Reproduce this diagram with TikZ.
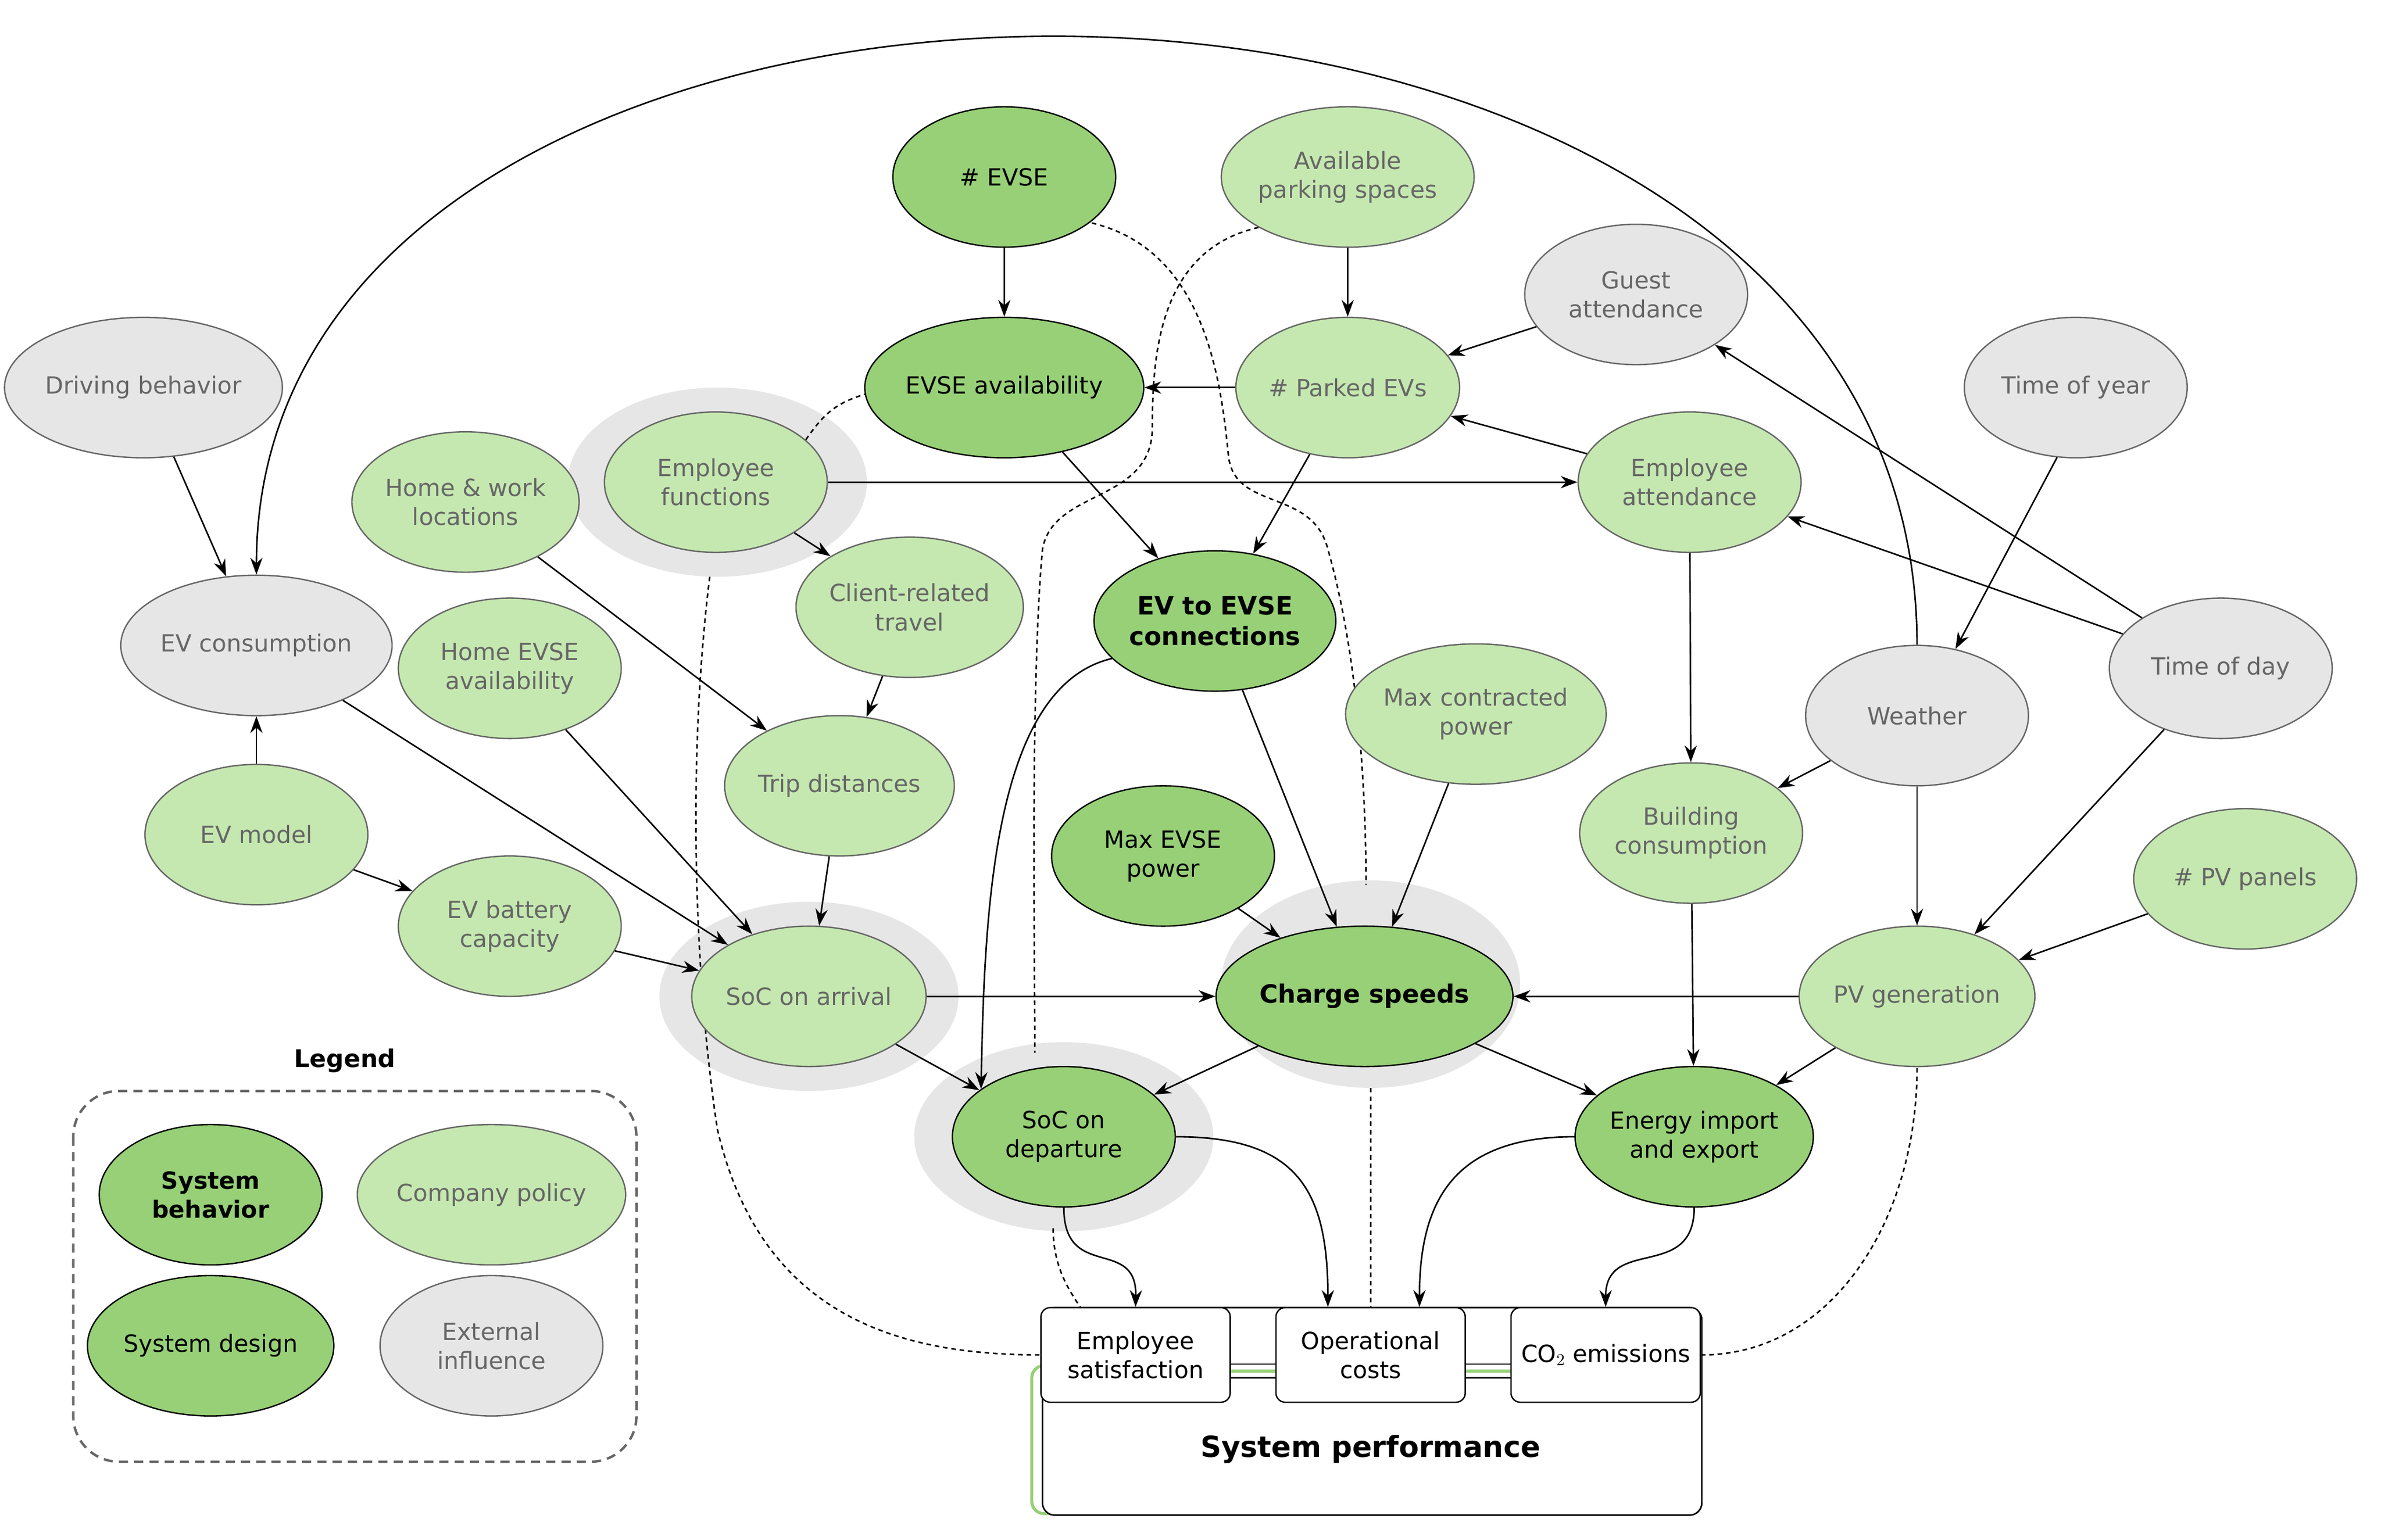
\documentclass[tikz,border=0pt]{standalone}
\usepackage{fontspec}
\setmainfont{DejaVu Sans}
\usetikzlibrary{shapes.geometric,arrows.meta}
\definecolor{dk}{HTML}{97D077}
\definecolor{lt}{HTML}{C5E8B0}
\definecolor{gy}{HTML}{E6E6E6}
\definecolor{tx}{HTML}{666666}
\definecolor{gl}{HTML}{97D077}
\begin{document}
\begin{tikzpicture}[x=1pt,y=-1pt,
 base/.style={ellipse,minimum width=146pt,minimum height=92pt,inner sep=0pt,align=center,font=\fontsize{15.5}{19}\selectfont,line width=0.9pt},
 dark/.style={base,fill=dk,draw=black,text=black},
 light/.style={base,fill=lt,draw=tx,text=tx},
 ext/.style={base,fill=gy,draw=tx,text=tx},
 halo/.style={ellipse,fill=gy,minimum width=196pt,minimum height=120pt},
 box/.style={draw=black,fill=white,rounded corners=6pt,minimum width=124pt,minimum height=62pt,align=center,font=\fontsize{15.5}{19}\selectfont,line width=0.9pt,inner sep=1pt},
 ar/.style={-{Stealth[length=11pt,width=8pt]},line width=1pt},
 ds/.style={dashed,line width=1pt,dash pattern=on 3pt off 2.5pt}]
\useasboundingbox (0,0) rectangle (1560,1009);
% halos
\fill[gy] (470,316) ellipse (98 and 62);
\fill[gy] (530,653) ellipse (98 and 62);
\fill[gy] (898,645) ellipse (98 and 68);
\fill[gy] (697,745) ellipse (98 and 62);
% dashed links
\draw[ds] (710,145) .. controls (790,160) and (800,250) .. (805,300) .. controls (810,335) and (860,320) .. (870,360) .. controls (890,430) and (895,520) .. (895,580);
\draw[ds] (830,148) .. controls (760,160) and (755,230) .. (755,280) .. controls (755,330) and (690,320) .. (683,360) .. controls (675,450) and (678,620) .. (678,690);
\draw[ds] (585,254) .. controls (545,262) and (540,270) .. (520,300);
\draw[ds] (465,378) .. controls (450,500) and (455,640) .. (470,740) .. controls (500,870) and (600,888) .. (683,888);
\draw[ds] (898,713) -- (898,857);
\draw[ds] (690,805) .. controls (690,830) and (700,845) .. (708,857);
\draw[ds] (1256,700) .. controls (1256,800) and (1200,888) .. (1115,888);
% performance box
\draw[gl,line width=2pt,rounded corners=8pt] (690,895) -- (676,895) -- (676,992) -- (700,992);
\draw[black,line width=1pt,rounded corners=8pt,fill=white] (683,857) rectangle (1115,993);
\node[font=\bfseries\fontsize{19}{22}\selectfont] (sp) at (898,950) {System performance};
\foreach \a/\b in {806/837,960/991}{
 \draw[line width=1pt] (\a,894) -- (\b,894); \draw[line width=1pt] (\a,903) -- (\b,903);
 \draw[gl,line width=2pt] (\a,898.5) -- (\b,898.5);}
\node[box] (empsat) at (744,888) {Employee\\satisfaction};
\node[box] (opcost) at (898,888) {Operational\\costs};
\node[box] (co2) at (1052,888) {CO$_2$ emissions};
% nodes
\node[dark] (evse) at (658,116) {\# EVSE};
\node[light] (avail) at (883,116) {Available\\parking spaces};
\node[ext] (guest) at (1072,193) {Guest\\attendance};
\node[ext] (drive) at (94,254) {Driving behavior};
\node[dark] (evseav) at (658,254) {EVSE availability};
\node[light] (parked) at (883,254) {\# Parked EVs};
\node[ext] (toy) at (1360,254) {Time of year};
\node[light] (homework) at (305,329) {Home \& work\\locations};
\node[light] (empfun) at (469,316) {Employee\\functions};
\node[light] (empatt) at (1107,316) {Employee\\attendance};
\node[light] (client) at (596,398) {Client-related\\travel};
\node[ext] (evcons) at (168,423) {EV consumption};
\node[light] (homeevse) at (334,438) {Home EVSE\\availability};
\node[dark,font=\bfseries\fontsize{16.5}{20}\selectfont] (ev2) at (796,407) {EV to EVSE\\connections};
\node[light] (maxcp) at (967,468) {Max contracted\\power};
\node[ext] (weather) at (1256,469) {Weather};
\node[ext] (tod) at (1455,438) {Time of day};
\node[light] (trip) at (550,515) {Trip distances};
\node[light] (evmodel) at (168,547) {EV model};
\node[dark] (maxevse) at (762,561) {Max EVSE\\power};
\node[light] (building) at (1108,546) {Building\\consumption};
\node[light] (pvpanels) at (1471,576) {\# PV panels};
\node[light] (battery) at (334,607) {EV battery\\capacity};
\node[light] (socarr) at (530,653) {SoC on arrival};
\node[dark,font=\bfseries\fontsize{16.5}{20}\selectfont] (charge) at (894,653) {Charge speeds};
\node[light] (pvgen) at (1256,653) {PV generation};
\node[dark] (socdep) at (697,745) {SoC on\\departure};
\node[dark] (energy) at (1110,745) {Energy import\\and export};
% arrows
\draw[ar] (evse) -- (evseav);
\draw[ar] (avail) -- (parked);
\draw[ar] (guest) -- (parked);
\draw[ar] (parked) -- (evseav);
\draw[ar] (empatt) -- (parked);
\draw[ar] (empfun) -- (empatt);
\draw[ar] (empfun) -- (client);
\draw[ar] (homework) -- (trip);
\draw[ar] (client) -- (trip);
\draw[ar] (evseav) -- (ev2);
\draw[ar] (parked) -- (ev2);
\draw[ar] (drive) -- (evcons);
\draw[ar] (evmodel) -- (evcons);
\draw[ar] (evmodel) -- (battery);
\draw[ar] (evcons) -- (socarr);
\draw[ar] (homeevse) -- (socarr);
\draw[ar] (trip) -- (socarr);
\draw[ar] (battery) -- (socarr);
\draw[ar] (socarr) -- (charge);
\draw[ar] (socarr) -- (socdep);
\draw[ar] (ev2) -- (charge);
\draw[ar] (ev2.200) .. controls (650,450) and (645,600) .. (socdep.150);
\draw[ar] (maxevse) -- (charge);
\draw[ar] (maxcp) -- (charge);
\draw[ar] (pvgen) -- (charge);
\draw[ar] (charge) -- (socdep);
\draw[ar] (charge) -- (energy);
\draw[ar] (pvgen) -- (energy);
\draw[ar] (building) -- (energy);
\draw[ar] (empatt) -- (building);
\draw[ar] (weather) -- (building);
\draw[ar] (weather) -- (pvgen);
\draw[ar] (tod) -- (pvgen);
\draw[ar] (tod) -- (empatt);
\draw[ar] (tod) -- (guest);
\draw[ar] (toy.255) -- (weather.60);
\draw[ar] (pvpanels) -- (pvgen);
\draw[ar] (weather.north) .. controls (1256,-100) and (168,-100) .. (evcons.north);
\draw[ar] (socdep.south) .. controls (697,840) and (745,810) .. (empsat.north);
\draw[ar] (socdep.east) .. controls (850,745) and (870,780) .. (opcost.north-|870,0);
\draw[ar] (energy.west) .. controls (950,745) and (930,790) .. (opcost.north-|930,0);
\draw[ar] (energy.south) .. controls (1110,840) and (1052,810) .. (co2.north);
% legend
\draw[dashed,line width=1.6pt,draw=tx,dash pattern=on 6pt off 4pt,rounded corners=30pt] (48,715) rectangle (417,958);
\node[font=\bfseries\fontsize{16}{19}\selectfont] (lg) at (226,695) {Legend};
\node[dark,font=\bfseries\fontsize{15.5}{19}\selectfont] (l1) at (138,783) {System\\behavior};
\node[light] (l2) at (322,783) {Company policy};
\node[dark] (l3) at (138,882) {System design};
\node[ext] (l4) at (322,882) {External\\influence};
\end{tikzpicture}
\end{document}
